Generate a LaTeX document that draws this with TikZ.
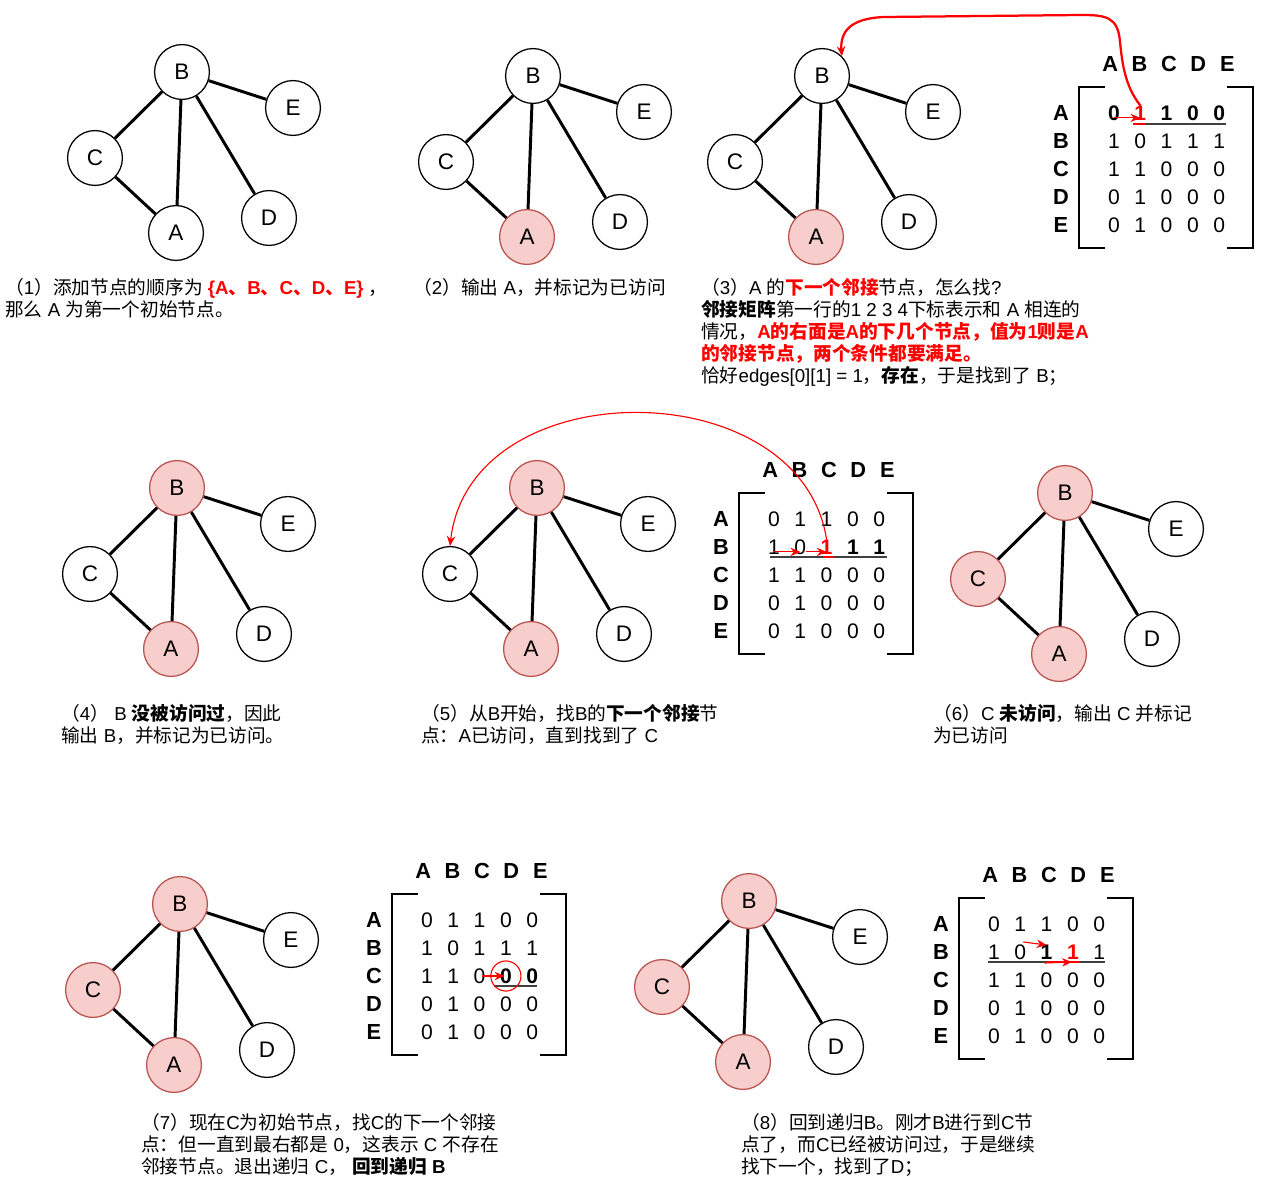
\documentclass[tikz,border=0pt]{standalone}
\usepackage{fontspec}
\setmainfont{Liberation Sans}
\newfontfamily\cjk{Noto Sans CJK SC}
% switch to the CJK family for Chinese characters and punctuation
\XeTeXinterchartokenstate=1
\newXeTeXintercharclass\cjkcls
\count255="3000
\loop\XeTeXcharclass\count255=\cjkcls\ifnum\count255<"303F\advance\count255 by 1\repeat
\count255="4E00
\loop\XeTeXcharclass\count255=\cjkcls\ifnum\count255<"9FFF\advance\count255 by 1\repeat
\count255="FF00
\loop\XeTeXcharclass\count255=\cjkcls\ifnum\count255<"FFEF\advance\count255 by 1\repeat
\XeTeXinterchartoks 0 \cjkcls={\cjk}
\XeTeXinterchartoks 4095 \cjkcls={\cjk}
\XeTeXinterchartoks \cjkcls 0={\rmfamily}
\XeTeXinterchartoks \cjkcls 4095={\rmfamily}
\usetikzlibrary{arrows.meta}
\definecolor{seenfill}{HTML}{F8CECC}
\definecolor{seenline}{HTML}{B85450}
\tikzset{vtx/.style={circle,draw,fill=white,line width=0.9pt,minimum size=39pt,inner sep=0pt,font=\fontsize{16}{19}\selectfont},
 seen/.style={vtx,fill=seenfill,draw=seenline},
 link/.style={line width=2.1pt},
 bracket/.style={line width=2.1pt},
 hdr/.style={font=\fontsize{15.5}{18}\selectfont\bfseries,inner sep=0pt},
 num/.style={font=\fontsize{15}{18}\selectfont,inner sep=0pt},
 numb/.style={num,font=\fontsize{15}{18}\selectfont\bfseries},
 numr/.style={numb,text=red},
 uline/.style={line width=0.8pt,black!75},
 redline/.style={line width=1pt,red},
 hit/.style={red,line width=0.8pt,-{Stealth[length=7pt,width=6pt]}},
 note/.style={font=\fontsize{13.3}{15.6}\selectfont,align=left,anchor=north west,inner sep=0pt},
}
% adjacency matrix: name, corner of left bracket, rows
\newcommand{\adjmat}[4]{%
  \draw[bracket] (#2+26,#3) -- (#2,#3) -- (#2,#3+161) -- (#2+26,#3+161);
  \draw[bracket] (#2+148,#3) -- (#2+174,#3) -- (#2+174,#3+161) -- (#2+148,#3+161);
  \foreach \l [count=\i] in {A,B,C,D,E} {
    \node[hdr] (#1c\l) at (#2+2+29.3*\i,#3-23) {\l};
    \node[hdr] (#1r\l) at (#2-18,#3-2+28*\i) {\l};
  }
  \foreach \row [count=\i] in {#4} {
    \foreach \st/\v [count=\j] in \row
      \node[\st] (#1-\i-\j) at (#2+8.7+26.3*\j,#3-2+28*\i) {\v};
  }}

\begin{document}
\begin{tikzpicture}[x=0.025cm,y=-0.025cm]
\useasboundingbox (0,0) rectangle (1263,1188);

% the eight graphs
\foreach \p/\bx/\by/\sa/\sb/\sc in {1/182/72/vtx/vtx/vtx,2/533/76/seen/vtx/vtx,3/822/76/seen/vtx/vtx,
  4/177/488/seen/seen/vtx,5/537/488/seen/seen/vtx,6/1065/493/seen/seen/seen,
  7/180/904/seen/seen/seen,8/749/901/seen/seen/seen}{
  \node[\sb] (B\p) at (\bx,\by) {B};
  \node[vtx] (E\p) at (\bx+111,\by+36) {E};
  \node[\sc] (C\p) at (\bx-87,\by+86) {C};
  \node[\sa] (A\p) at (\bx-6,\by+161) {A};
  \node[vtx] (D\p) at (\bx+87,\by+146) {D};
  \draw[link] (B\p) -- (E\p);
  \draw[link] (B\p) -- (C\p);
  \draw[link] (B\p) -- (A\p);
  \draw[link] (B\p) -- (D\p);
  \draw[link] (C\p) -- (A\p);
}

% matrices
\adjmat{m3}{1079}{87}{{numb/0,numr/1,numb/1,numb/0,numb/0},{num/1,num/0,num/1,num/1,num/1},{num/1,num/1,num/0,num/0,num/0},{num/0,num/1,num/0,num/0,num/0},{num/0,num/1,num/0,num/0,num/0}}
\adjmat{m5}{739}{493}{{num/0,num/1,num/1,num/0,num/0},{num/1,num/0,numr/1,numb/1,numb/1},{num/1,num/1,num/0,num/0,num/0},{num/0,num/1,num/0,num/0,num/0},{num/0,num/1,num/0,num/0,num/0}}
\adjmat{m7}{392}{894}{{num/0,num/1,num/1,num/0,num/0},{num/1,num/0,num/1,num/1,num/1},{num/1,num/1,num/0,numb/0,numb/0},{num/0,num/1,num/0,num/0,num/0},{num/0,num/1,num/0,num/0,num/0}}
\adjmat{m8}{959}{898}{{num/0,num/1,num/1,num/0,num/0},{num/1,num/0,numb/1,numr/1,num/1},{num/1,num/1,num/0,num/0,num/0},{num/0,num/1,num/0,num/0,num/0},{num/0,num/1,num/0,num/0,num/0}}

% underlines
\draw[uline] ([shift={(-7,11)}]m3-1-2.center) -- ([shift={(7,11)}]m3-1-5.center);
\draw[redline] ([shift={(-7,11)}]m3-1-2.center) -- ([shift={(5,11)}]m3-1-2.center);
\draw[uline] ([shift={(-4,10)}]m5-2-1.center) -- ([shift={(8,10)}]m5-2-5.center);
\draw[redline] ([shift={(-4,10)}]m5-2-3.center) -- ([shift={(7,10)}]m5-2-3.center);
\draw[uline] ([shift={(-12,10)}]m7-3-4.center) -- ([shift={(5,10)}]m7-3-5.center);
\draw[uline] ([shift={(-6,10)}]m8-2-1.center) -- ([shift={(6,10)}]m8-2-5.center);
\draw[redline] ([shift={(0,10)}]m8-2-3.center) -- ([shift={(7,10)}]m8-2-4.center);

% red arrows
\draw[hit] ([yshift=-3.5pt]m3-1-1.center) -- ([yshift=-3.5pt]m3-1-2.center);
\draw[hit,line width=1.6pt] (m3-1-2.north) .. controls (1124,85) and (1122,60) .. (1120,42)
  .. controls (1118,16) and (1105,15) .. (1080,15) -- (885,17)
  .. controls (850,18) and (840,32) .. (B3.north east);
\draw[hit] ([yshift=-3.5pt]m5-2-1.center) -- ([yshift=-3.5pt]m5-2-2.center);
\draw[hit] ([yshift=-3.5pt]m5-2-2.east) -- ([yshift=-3.5pt]m5-2-3.center);
\draw[hit] (m5-2-3.north) .. controls (800,370) and (470,370) .. (C5.north);
\draw[hit] ([xshift=2pt]m7-3-3.center) -- ([xshift=-1pt]m7-3-4.center);
\draw[red,line width=0.8pt] (m7-3-4) circle[radius=10.7pt];
\draw[hit] ([shift={(3,-10)}]m8-2-2.center) -- ([shift={(0,-7)}]m8-2-3.center);
\draw[hit] ([shift={(-2,11)}]m8-2-3.center) -- ([shift={(-1,10)}]m8-2-4.center);

% captions
\node[note] (t1) at (5,278) {（1）添加节点的顺序为 {\color{red}\bfseries \{A、B、C、D、E\}} ，\\那么 A 为第一个初始节点。};
\node[note] (t2) at (413,278) {（2）输出 A，并标记为已访问};
\node[note] (t3) at (701,278) {（3）A 的{\color{red}\bfseries 下一个邻接}节点，怎么找?\\{\bfseries 邻接矩阵}第一行的1 2 3 4下标表示和 A 相连的\\情况，{\color{red}\bfseries A的右面是A的下几个节点，值为1则是A}\\{\color{red}\bfseries 的邻接节点，两个条件都要满足。}\\恰好edges[0][1] = 1，{\bfseries 存在}，于是找到了 B；};
\node[note] (t4) at (61,704) {（4） B {\bfseries 没被访问过}，因此\\输出 B，并标记为已访问。};
\node[note] (t5) at (421,704) {（5）从B开始，找B的{\bfseries 下一个邻接}节\\点：A已访问，直到找到了 C};
\node[note] (t6) at (933,704) {（6）C {\bfseries 未访问}，输出 C 并标记\\为已访问};
\node[note] (t7) at (141,1113) {（7）现在C为初始节点，找C的下一个邻接\\点：但一直到最右都是 0，这表示 C 不存在\\邻接节点。退出递归 C， {\bfseries 回到递归 B}};
\node[note] (t8) at (741,1113) {（8）回到递归B。刚才B进行到C节\\点了，而C已经被访问过，于是继续\\找下一个，找到了D；};
\end{tikzpicture}
\end{document}
